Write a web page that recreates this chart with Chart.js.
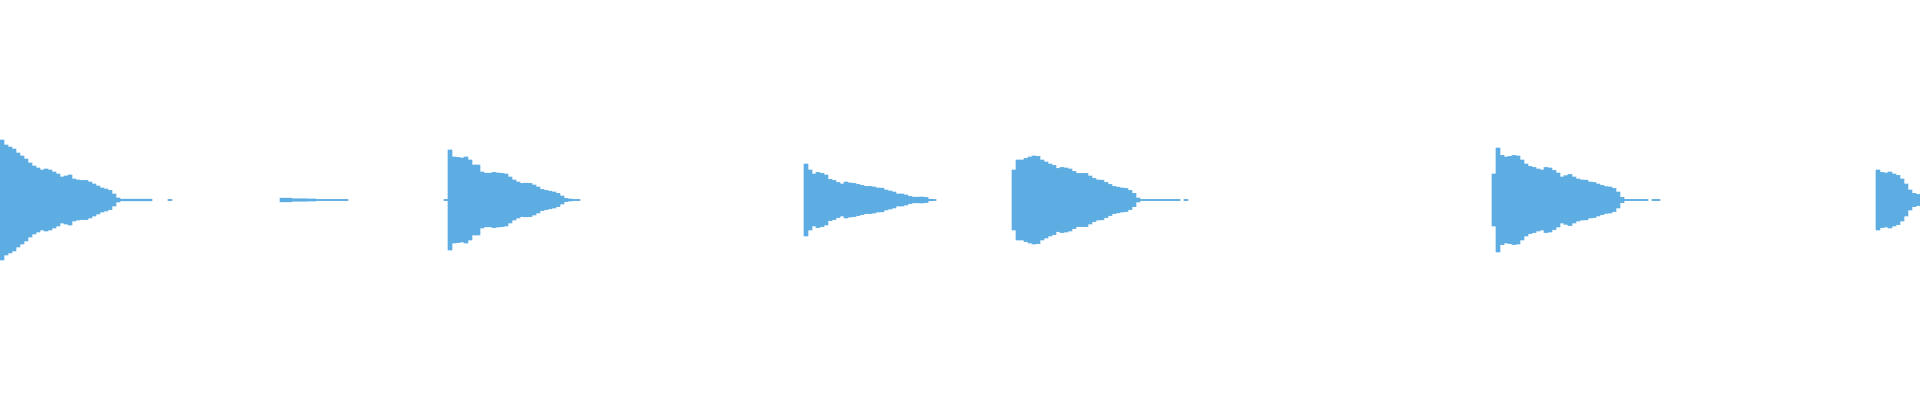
<!DOCTYPE html>
<html>
<head>
<meta charset="utf-8">
<script src="https://cdn.jsdelivr.net/npm/chart.js@4.4.1/dist/chart.umd.min.js"></script>
<style>
  html, body { margin: 0; padding: 0; background: #ffffff; }
  #wrap { width: 1920px; height: 400px; position: relative; }
</style>
</head>
<body>
<div id="wrap"><canvas id="c"></canvas></div>
<script>
// Waveform: peak amplitude (per-mille of full scale) per time bucket
const bucketCount = 480;

// first time bucket of each sound clip
const clipStartBucket = [0, 70, 111, 201, 253, 373, 469];

const clip1Amp = [300,275,265,255,235,220,205,185,170,160,150,155,150,140,130,115,120,125,105,100,98,98,90,80,70,60,55,48,30,10,4,4,4,4,4,4,4,4,0,0,0,0,3];
const clip2Amp = [9,9,9,6,6,6,6,5,5,3,3,3,3,3,3,3,3];
const clip3Amp = [3,250,215,213,210,215,200,175,175,140,134,134,138,135,133,130,115,100,90,83,84,83,75,65,53,48,44,40,33,20,8,5,3,3];
const clip4Amp = [180,150,130,138,133,125,103,98,88,80,90,85,83,78,73,68,68,65,60,59,50,45,40,30,30,25,18,14,14,15,13,4,3];
const clip5Amp = [150,200,200,208,215,220,218,200,190,180,173,158,163,160,155,143,133,133,133,120,108,100,99,88,78,68,64,60,58,48,33,10,3,3,3,3,3,3,3,3,3,3,0,3];
const clip6Amp = [130,260,223,215,218,223,220,200,180,168,163,155,150,163,160,148,135,115,122,128,115,105,100,99,90,88,80,73,67,65,58,40,13,3,3,3,3,3,3,0,3,3];
const clip7Amp = [150,138,135,140,130,123,105,80,50,33,28];

const clipAmps = [clip1Amp, clip2Amp, clip3Amp, clip4Amp, clip5Amp, clip6Amp, clip7Amp];

// build the full series (silence = null)
const labels = [];
const envelope = [];
for (let i = 0; i < bucketCount; i++) { labels.push(String(i)); envelope.push(null); }
clipAmps.forEach((amps, k) => {
  amps.forEach((a, j) => {
    const idx = clipStartBucket[k] + j;
    if (idx < bucketCount && a > 0) envelope[idx] = [-a, a];
  });
});

new Chart(document.getElementById('c'), {
  type: 'bar',
  data: {
    labels: labels,
    datasets: [{
      data: envelope,
      backgroundColor: '#5dade2',
      borderWidth: 0,
      borderSkipped: false,
      categoryPercentage: 1.0,
      barPercentage: 1.0
    }]
  },
  options: {
    responsive: true,
    maintainAspectRatio: false,
    animation: false,
    layout: { padding: 0 },
    plugins: { legend: { display: false }, tooltip: { enabled: false } },
    scales: {
      x: { display: false, offset: true, grid: { display: false } },
      y: { display: false, min: -1000, max: 1000, grid: { display: false } }
    }
  }
});
</script>
</body>
</html>
